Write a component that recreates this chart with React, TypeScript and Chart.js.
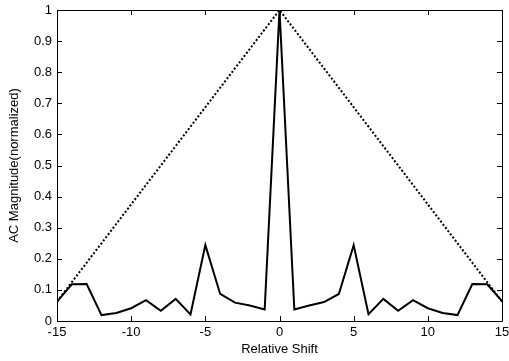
import React, { useEffect, useRef } from "react";
import { Chart, registerables } from "chart.js";

Chart.register(...registerables);

const shifts = [-15, -14, -13, -12, -11, -10, -9, -8, -7, -6, -5, -4, -3, -2, -1, 0, 1, 2, 3, 4, 5, 6, 7, 8, 9, 10, 11, 12, 13, 14, 15];
const acMagnitude = [0.062, 0.118, 0.119, 0.019, 0.026, 0.041, 0.067, 0.033, 0.071, 0.021, 0.244, 0.087, 0.059, 0.05, 0.037, 1.0, 0.037, 0.05, 0.061, 0.087, 0.244, 0.022, 0.071, 0.033, 0.067, 0.041, 0.026, 0.019, 0.119, 0.118, 0.064];
const envelopeShifts = [-15, 0, 15];
const envelopeValues = [0.0625, 1.0, 0.0625];

const FONT = "'Liberation Sans', Arial, Helvetica, sans-serif";

const frameTicks = {
  id: "frameTicks",
  afterDraw(chart: any) {
    const { ctx, chartArea, scales } = chart;
    const { left, right, top, bottom } = chartArea;
    const x = scales.x;
    const y = scales.y;
    const len = 5;
    ctx.save();
    ctx.strokeStyle = "#000";
    ctx.lineWidth = 1;
    ctx.beginPath();
    ctx.rect(Math.round(left) + 0.5, Math.round(top) + 0.5, Math.round(right - left), Math.round(bottom - top));
    x.ticks.forEach((t: any) => {
      const px = Math.round(x.getPixelForValue(t.value)) + 0.5;
      ctx.moveTo(px, bottom);
      ctx.lineTo(px, bottom - len);
      ctx.moveTo(px, top);
      ctx.lineTo(px, top + len);
    });
    y.ticks.forEach((t: any) => {
      const py = Math.round(y.getPixelForValue(t.value)) + 0.5;
      ctx.moveTo(left, py);
      ctx.lineTo(left + len, py);
      ctx.moveTo(right, py);
      ctx.lineTo(right - len, py);
    });
    ctx.stroke();
    ctx.restore();
  },
};

export default function App() {
  const ref = useRef<HTMLCanvasElement>(null);
  useEffect(() => {
    document.body.style.margin = "0";
    const chart = new Chart(ref.current as HTMLCanvasElement, {
      type: "line",
      data: {
        datasets: [
          {
            data: envelopeShifts.map((s, i) => ({ x: s, y: envelopeValues[i] })),
            borderColor: "#000",
            borderWidth: 2,
            borderDash: [2, 2],
            pointRadius: 0,
            tension: 0,
            fill: false,
          },
          {
            data: shifts.map((s, i) => ({ x: s, y: acMagnitude[i] })),
            borderColor: "#000",
            borderWidth: 2,
            pointRadius: 0,
            tension: 0,
            fill: false,
          },
        ],
      },
      options: {
        animation: false,
        responsive: false,
        layout: { padding: { top: 10, right: 7, left: 0, bottom: 0 } },
        plugins: { legend: { display: false }, tooltip: { enabled: false } },
        scales: {
          x: {
            type: "linear",
            min: -15,
            max: 15,
            grid: { display: false, drawTicks: false },
            border: { display: false },
            ticks: { stepSize: 5, color: "#000", padding: 4, font: { family: FONT, size: 13 }, maxRotation: 0 },
            title: { display: true, text: "Relative Shift", color: "#000", font: { family: FONT, size: 13 }, padding: { top: 0, bottom: 4 } },
            afterFit(scale: any) {
              scale.height = 40;
              scale.paddingLeft = 0;
              scale.paddingRight = 0;
            },
          },
          y: {
            type: "linear",
            min: 0,
            max: 1,
            grid: { display: false, drawTicks: false },
            border: { display: false },
            ticks: {
              stepSize: 0.1,
              color: "#000",
              padding: 5,
              font: { family: FONT, size: 13 },
              callback: (v: any) => String(Number(Number(v).toFixed(1))),
            },
            title: { display: true, text: "AC Magnitude(normalized)", color: "#000", font: { family: FONT, size: 13 }, padding: { top: 7, bottom: 0 } },
            afterFit(scale: any) {
              scale.width = 57;
              scale.paddingTop = 0;
              scale.paddingBottom = 0;
            },
          },
        },
      },
      plugins: [frameTicks],
    });
    return () => chart.destroy();
  }, []);
  return (
    <div style={{ width: 509, height: 361, background: "#fff" }}>
      <canvas ref={ref} width={509} height={361} />
    </div>
  );
}
